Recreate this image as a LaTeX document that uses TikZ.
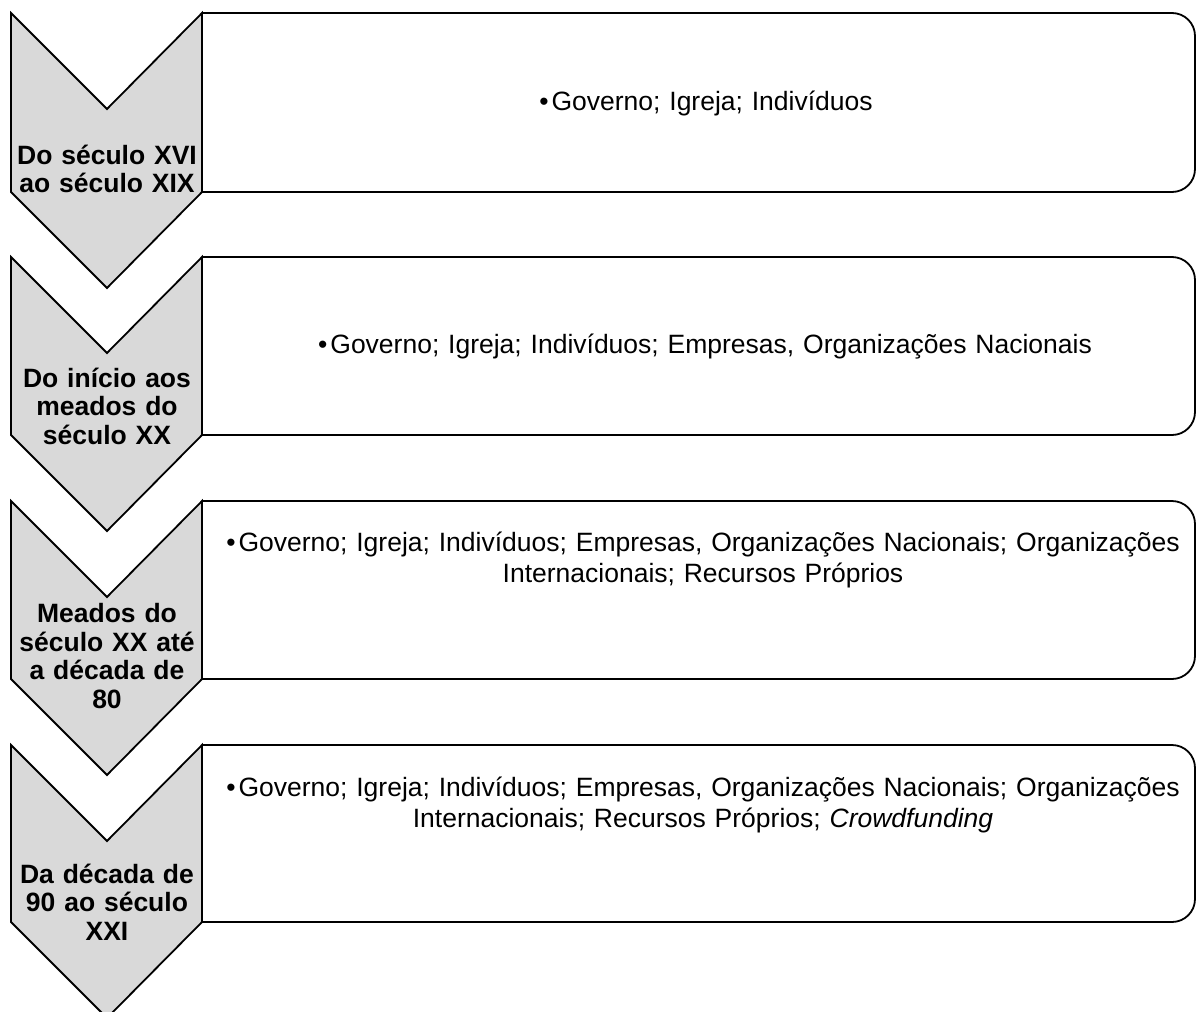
\documentclass[tikz,border=0pt]{standalone}
\usepackage{fontspec}
\setmainfont{Liberation Sans}
\definecolor{chevgray}{RGB}{217,217,217}
\begin{document}
\begin{tikzpicture}[x=1pt,y=-1pt,
    chevron/.style={draw=black, line width=1.8pt, fill=chevgray, line join=miter},
    listbox/.style={draw=black, line width=1.8pt, rounded corners=23pt},
    periodtext/.style={font=\fontsize{26.5}{28.5}\selectfont\bfseries, align=center, text width=190pt, inner sep=0pt},
    itemtext/.style={font=\fontsize{26.5}{30.5}\selectfont, align=center, text width=990pt}]
	\useasboundingbox (0,0) rectangle (1197,1012);
	% chevrons and boxes
	\foreach \t/\b in {13/192, 257/435, 501/679, 745/922} {
		\draw [listbox] (202,\t) -- (1195,\t) -- (1195,\b) -- (202,\b);
		\draw [chevron] (11,\t) -- (107,\t+96) -- (202,\t) -- (202,\b) -- (107,\b+96) -- (11,\b) -- cycle;
	}
	% periods
	\node [periodtext] (p1) at (107,169) {Do século XVI\\ao século XIX};
	\node [periodtext] (p2) at (107,406) {Do início aos\\meados do\\século XX};
	\node [periodtext] (p3) at (107,656) {Meados do\\século XX até\\a década de\\80};
	\node [periodtext] (p4) at (107,902) {Da década de\\90 ao século\\XXI};
	% sources
	\node [itemtext] (s1) at (706,103) {\textbullet\hspace{3pt}Governo; Igreja; Indivíduos};
	\node [itemtext] (s2) at (705,347) {\textbullet\hspace{3pt}Governo; Igreja; Indivíduos; Empresas, Organizações Nacionais};
	\node [itemtext] (s3) at (703,560) {\textbullet\hspace{3pt}Governo; Igreja; Indivíduos; Empresas, Organizações Nacionais; Organizações\\Internacionais; Recursos Próprios};
	\node [itemtext] (s4) at (703,805) {\textbullet\hspace{3pt}Governo; Igreja; Indivíduos; Empresas, Organizações Nacionais; Organizações\\Internacionais; Recursos Próprios; \textit{Crowdfunding}};
\end{tikzpicture}
\end{document}
